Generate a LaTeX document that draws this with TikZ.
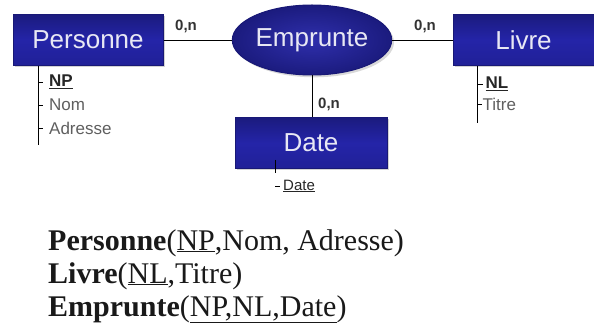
\documentclass[tikz,border=0pt]{standalone}
\usepackage{fontspec}
\setmainfont{Liberation Serif}
\newfontfamily\arial{Liberation Sans}
\usetikzlibrary{shapes.geometric,shadows}

\definecolor{bleu}{RGB}{36,36,168}
\definecolor{bleufonce}{RGB}{24,24,118}
\definecolor{texteboite}{RGB}{232,232,244}
\definecolor{gris}{RGB}{95,95,95}

\tikzset{
  entite/.style={rectangle,draw=bleufonce,line width=1pt,top color=bleu!75!black,
    bottom color=bleu!90!black,middle color=bleu,text=texteboite,
    font=\arial\fontsize{26}{28}\selectfont,inner sep=0pt,
    drop shadow={shadow xshift=2pt,shadow yshift=-2pt,opacity=.35}},
  relation/.style={ellipse,draw=bleufonce,line width=1pt,inner color=bleu!95!white,
    outer color=bleu!75!black,text=texteboite,font=\arial\fontsize{26}{28}\selectfont,
    inner sep=0pt,minimum width=146pt,minimum height=70pt,drop shadow={opacity=.3}},
  card/.style={font=\arial\bfseries\fontsize{15}{17}\selectfont,text=black!80},
  attr/.style={anchor=west,inner sep=0pt,font=\arial\fontsize{17}{19}\selectfont,text=gris},
  cle/.style={attr,text=black!85},
  ligne/.style={font=\fontsize{30}{33}\selectfont,anchor=base west,inner sep=0pt,text=black!90}
}

\begin{document}
\begin{tikzpicture}[x=1pt,y=-1pt]
\useasboundingbox (0,0) rectangle (594,331);

% entites et relation
\node[entite,minimum width=150pt,minimum height=51pt] (personne) at (88,40) {Personne};
\node[relation] (emprunte) at (312,40) {Emprunte};
\node[entite,minimum width=141pt,minimum height=51pt] (livre) at (523.5,40) {Livre};
\node[entite,minimum width=152pt,minimum height=51pt] (date) at (311,143) {Date};

\draw[thick] (personne.east) -- (emprunte.west);
\draw[thick] (emprunte.east) -- (livre.west);
\draw[thick] (emprunte.south) -- (emprunte.south |- date.north);

% cardinalites
\node[card] (c1) at (186,26) {0,n};
\node[card] (c2) at (425,26) {0,n};
\node[card] (c3) at (329,104) {0,n};

% attributs de Personne
\coordinate (p0) at ([xshift=-50pt]personne.south);
\draw (p0) -- ++(0,79);
\foreach \y/\t/\s in {82/\underline{\textbf{NP}}/cle, 105/Nom/attr, 128/Adresse/attr}{
  \draw (p0 |- 0,\y) -- ++(5,0) node[\s,xshift=6pt] {\t};
}

% attributs de Livre
\coordinate (l0) at ([xshift=-46pt]livre.south);
\draw (l0) -- ++(0,57);
\draw (l0 |- 0,84) -- ++(5,0) node[cle,xshift=3pt] {\underline{\textbf{NL}}};
\draw (l0 |- 0,104) -- ++(4,0) node[attr,xshift=1pt] {Titre};

% attribut de Date
\coordinate (d0) at ([xshift=-36pt,yshift=9pt]date.south);
\draw (d0) -- ++(0,13);
\draw (d0 |- 0,186) -- ++(5,0) node[cle,xshift=3pt,font=\arial\fontsize{15}{17}\selectfont] {\underline{Date}};

% schema relationnel
\node[ligne] (r1) at (48,250) {\textbf{Personne}(\underline{NP},Nom, Adresse)};
\node[ligne] (r2) at (48,283) {\textbf{Livre}(\underline{NL},Titre)};
\node[ligne] (r3) at (48,316) {\textbf{Emprunte}(\underline{NP,NL,Date})};
\end{tikzpicture}
\end{document}
